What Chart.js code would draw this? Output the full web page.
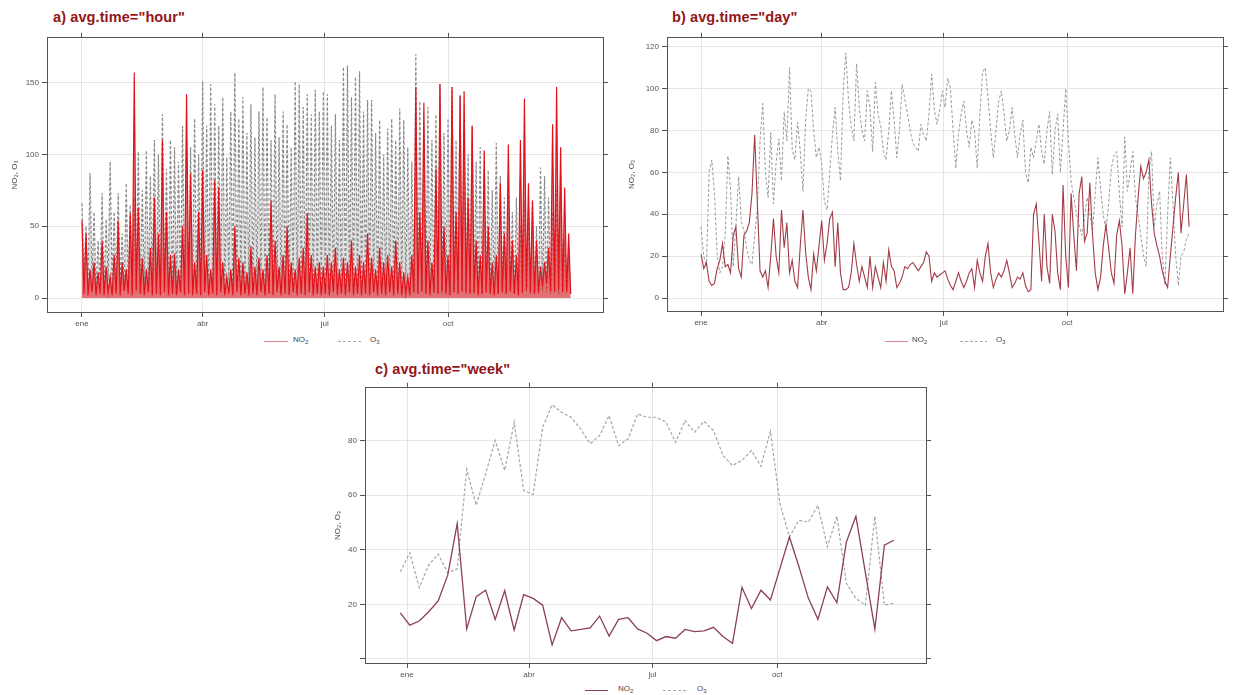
<!DOCTYPE html>
<html>
<head>
<meta charset="utf-8">
<script src="https://cdn.jsdelivr.net/npm/chart.js@4.4.0/dist/chart.umd.min.js"></script>
<style>
  body{margin:0;background:#fff;width:1234px;height:695px;position:relative;overflow:hidden;font-family:"Liberation Sans",Arial,sans-serif}
  canvas{position:absolute}
  .ttl{position:absolute;font:bold 14.5px "Liberation Sans",Arial,sans-serif;color:#931519;white-space:nowrap;letter-spacing:0.1px}
  .lg{position:absolute;font-size:8px;color:#444;line-height:10px;white-space:nowrap}
  .lg sub{font-size:6px;vertical-align:-2px;line-height:0}
  svg{position:absolute;overflow:visible}
</style>
</head>
<body>
<div class="ttl" style="left:53px;top:9px">a) avg.time="hour"</div>
<div class="ttl" style="left:672px;top:9px">b) avg.time="day"</div>
<div class="ttl" style="left:375px;top:361px">c) avg.time="week"</div>

<canvas id="cHour" width="625" height="300" style="left:0;top:30px"></canvas>
<canvas id="cDay" width="614" height="300" style="left:620px;top:30px"></canvas>
<canvas id="cWeek" width="620" height="300" style="left:320px;top:380px"></canvas>

<!-- legends -->
<svg style="left:264px;top:341px" width="25" height="2"><line x1="0" y1="0.5" x2="24" y2="0.5" stroke="#d88a90" stroke-width="1"/></svg>
<div class="lg" style="left:293px;top:335px">NO<sub>2</sub></div>
<svg style="left:338px;top:341px" width="25" height="2"><line x1="0" y1="0.5" x2="25" y2="0.5" stroke="#aaa" stroke-width="1" stroke-dasharray="3,2"/></svg>
<div class="lg" style="left:370px;top:335px">O<sub>3</sub></div>

<svg style="left:885px;top:341px" width="25" height="2"><line x1="0" y1="0.5" x2="23" y2="0.5" stroke="#d88a90" stroke-width="1"/></svg>
<div class="lg" style="left:912px;top:335px">NO<sub>2</sub></div>
<svg style="left:960px;top:341px" width="28" height="2"><line x1="0" y1="0.5" x2="27" y2="0.5" stroke="#aaa" stroke-width="1" stroke-dasharray="3,2"/></svg>
<div class="lg" style="left:996px;top:335px">O<sub>3</sub></div>

<svg style="left:585px;top:690px" width="25" height="2"><line x1="0" y1="0.5" x2="23" y2="0.5" stroke="#8c4150" stroke-width="1"/></svg>
<div class="lg" style="left:618px;top:684px">NO<sub>2</sub></div>
<svg style="left:663px;top:690px" width="25" height="2"><line x1="0" y1="0.5" x2="24" y2="0.5" stroke="#aaa" stroke-width="1" stroke-dasharray="3,2"/></svg>
<div class="lg" style="left:697px;top:684px">O<sub>3</sub></div>

<script>
// month ticks (day of year) and their labels
const MONTH_DAYS = [0, 90, 181, 273];
const MONTH_LABELS = ['ene', 'abr', 'jul', 'oct'];

// hourly panel: pairs of (high, low) every 1.5 days
const HOUR_STEP = 1.5;
const NO2_HOUR = [
  54,3, 45,2, 20,4, 25,2, 18,3, 40,2,
  22,4, 15,2, 30,3, 54,2, 25,5, 20,3,
  59,2, 157,6, 63,3, 28,2, 20,4, 35,2,
  70,3, 45,2, 110,4, 60,2, 30,3, 31,2,
  20,4, 50,2, 142,3, 87,2, 25,3, 60,2,
  89,4, 30,2, 20,3, 82,2, 77,4, 25,2,
  15,3, 20,2, 50,4, 28,2, 25,3, 18,2,
  36,3, 22,2, 28,4, 20,2, 30,3, 68,2,
  40,4, 22,2, 30,3, 50,2, 25,4, 20,2,
  28,3, 35,2, 59,4, 30,2, 22,3, 25,2,
  22,3, 30,2, 25,4, 35,2, 20,3, 28,2,
  25,4, 40,2, 22,3, 30,2, 25,3, 45,2,
  28,4, 20,2, 35,3, 25,2, 30,4, 22,2,
  40,3, 25,2, 18,3, 15,2, 30,4, 147,3,
  60,5, 136,3, 40,2, 25,4, 90,3, 149,5,
  50,3, 30,2, 147,4, 60,3, 141,5, 144,4,
  70,3, 120,4, 40,2, 30,3, 103,4, 50,3,
  25,2, 30,3, 80,4, 45,3, 107,5, 40,3,
  30,2, 110,4, 139,6, 80,4, 68,3, 40,4,
  22,8, 25,10, 35,5, 121,4, 147,6, 105,4,
  77,5, 45,3
];
const O3_HOUR = [
  66,15, 50,8, 87,12, 60,5, 40,10, 73,6,
  55,12, 95,8, 60,5, 73,10, 45,6, 80,8,
  65,5, 70,4, 102,6, 75,8, 103,5, 85,10,
  110,6, 100,4, 128,8, 90,5, 110,6, 105,4,
  95,8, 120,5, 110,4, 105,6, 125,5, 100,8,
  151,6, 120,4, 149,8, 135,5, 120,6, 140,4,
  98,10, 130,6, 157,5, 125,8, 140,4, 115,6,
  135,5, 112,8, 130,6, 147,4, 126,6, 110,5,
  142,8, 112,4, 130,6, 121,5, 105,8, 151,4,
  149,6, 133,5, 142,8, 128,4, 145,6, 130,5,
  144,8, 142,6, 120,5, 128,8, 110,4, 161,6,
  162,5, 140,8, 154,4, 158,6, 130,5, 138,8,
  138,4, 115,6, 124,5, 100,8, 118,4, 125,6,
  110,5, 132,4, 124,6, 105,5, 95,4, 170,3,
  137,4, 120,3, 133,5, 110,3, 128,4, 149,3,
  115,4, 125,3, 147,4, 110,3, 141,4, 120,3,
  100,4, 120,3, 95,4, 105,3, 90,4, 89,3,
  75,4, 108,3, 85,4, 70,3, 85,4, 60,3,
  70,4, 50,3, 68,4, 60,3, 68,4, 50,3,
  91,5, 85,4, 70,3, 60,4, 75,3, 85,4,
  40,3, 30,3
];

// daily panel: one value every 2 days
const DAY_STEP = 2;
const NO2_DAY = [
  21,14,17,8,6,7,14,18,26,15,16,12,
  30,34,14,10,30,32,36,50,78,45,13,10,
  13,5,20,38,20,12,42,24,36,12,18,8,
  5,25,42,22,10,4,21,13,25,37,18,26,
  38,41,15,36,12,4,4,5,12,26,16,8,
  15,10,5,20,5,15,10,5,17,8,23,15,
  13,5,7,10,15,14,16,17,15,13,15,17,
  22,20,8,12,10,11,12,13,9,6,4,8,
  12,8,5,8,12,14,5,18,12,8,20,26,
  12,5,9,12,10,13,18,12,5,7,10,9,
  12,6,3,4,40,45,27,8,40,15,7,40,
  32,12,4,54,20,5,50,30,13,50,58,27,
  31,55,30,12,4,10,25,35,24,12,7,30,
  37,25,2,12,24,2,30,48,63,57,60,66,
  45,31,25,20,13,8,5,20,34,48,60,31,
  45,59,34
];
const O3_DAY = [
  34,20,15,60,66,50,21,12,15,30,68,52,
  15,35,58,37,32,24,18,16,30,43,75,93,
  60,48,79,45,65,76,56,89,75,110,71,66,
  84,70,51,85,100,99,80,67,72,64,46,42,
  60,78,91,70,56,99,117,94,82,75,112,91,
  80,75,99,91,70,103,88,82,70,66,80,99,
  85,67,80,102,95,88,80,74,72,70,83,78,
  75,88,107,90,83,90,99,91,105,100,80,62,
  78,88,94,80,72,85,80,62,88,108,110,96,
  80,67,80,94,99,88,75,80,91,78,67,78,
  85,60,55,72,67,75,83,70,64,80,89,59,
  80,88,60,80,100,75,56,48,40,35,30,38,
  48,40,32,50,67,52,40,32,45,62,68,70,
  50,34,77,51,60,70,48,39,30,20,15,60,
  70,34,45,51,20,6,40,67,45,20,6,20,
  22,28,31
];

// weekly panel
const WEEK_START = -5;
const WEEK_STEP = 7;
const NO2_WEEK = [16.9,12.4,13.9,17.3,21.3,30.7,49.6,11.0,22.8,25.2,14.5,25.0,10.6,23.6,22.2,19.7,5.1,15.1,
  10.3,10.8,11.4,15.7,8.4,14.5,15.1,11.0,9.4,6.7,8.2,7.6,10.8,10.0,10.3,11.6,8.2,5.7,26.2,18.5,25.2,21.6,
  33.2,44.7,33.8,22.2,14.5,26.4,20.6,42.9,52.3,31.6,10.9,41.7,43.5];
const O3_WEEK = [31.9,38.9,26.2,34.4,38.4,31.6,33,69.5,56.3,67.9,80.1,69.1,86.8,61.8,60.3,84.9,93.2,90.4,
  88.6,84.3,78.9,81.9,89.2,78.2,80.7,89.8,88.6,88.6,86.8,79.4,87.4,83.1,87.1,83.7,74.6,70.9,72.8,76.4,70.6,
  83.5,56.9,44.7,50.8,50.2,56.3,41.1,52.3,27.7,22.2,19.7,52.3,19.7,20.4];

const Y_TICKS_HOUR = [0, 50, 100, 150];
const Y_TICKS_DAY = [0, 20, 40, 60, 80, 100, 120];
const Y_TICKS_WEEK = [0, 20, 40, 60, 80];

const pts = (arr, start, step) => arr.map((v, i) => ({ x: start + i * step, y: v }));

const tickFont = { family: 'Liberation Sans', size: 8 };
const boxColor = '#555';
const gridColor = '#e6e6e6';

function setTicks(vals){
  return s => { s.ticks = vals.map(v => ({ value: v })); };
}

function makePanel(id, p){
  const ctx = document.getElementById(id).getContext('2d');
  return new Chart(ctx, {
    type: 'line',
    data: { datasets: p.datasets },
    options: {
      responsive: false,
      animation: false,
      events: [],
      layout: { padding: 0 },
      elements: { point: { radius: 0 }, line: { tension: 0 } },
      plugins: { legend: { display: false }, tooltip: { enabled: false } },
      scales: {
        x: {
          type: 'linear', position: 'bottom', min: p.xMin, max: p.xMax,
          afterBuildTicks: setTicks(MONTH_DAYS),
          afterFit: s => { s.height = p.bottom; },
          ticks: { font: tickFont, color: '#555', padding: 2, maxRotation: 0, autoSkip: false,
                   callback: v => MONTH_LABELS[MONTH_DAYS.indexOf(v)] || '' },
          grid: { color: gridColor, tickColor: boxColor, tickLength: 5 },
          border: { color: boxColor, width: 1 }
        },
        x2: {
          type: 'linear', position: 'top', min: p.xMin, max: p.xMax,
          afterBuildTicks: setTicks(MONTH_DAYS),
          afterFit: s => { s.height = p.top; },
          ticks: { display: false },
          grid: { drawOnChartArea: false, tickColor: boxColor, tickLength: 5 },
          border: { color: boxColor, width: 1 }
        },
        y: {
          type: 'linear', position: 'left', min: p.yMin, max: p.yMax,
          afterBuildTicks: setTicks(p.yTicks),
          afterFit: s => { s.width = p.left; },
          ticks: { font: tickFont, color: '#555', padding: 3,
                   callback: v => (p.hideZero && v === 0) ? '' : String(v) },
          grid: { color: gridColor, tickColor: boxColor, tickLength: 5 },
          border: { color: boxColor, width: 1 },
          title: { display: true, text: 'NO₂, O₃', font: tickFont, color: '#444',
                   padding: { top: p.titlePad, bottom: 0 } }
        },
        y2: {
          type: 'linear', position: 'right', min: p.yMin, max: p.yMax,
          afterBuildTicks: setTicks(p.yTicks),
          afterFit: s => { s.width = p.right; },
          ticks: { display: false },
          grid: { drawOnChartArea: false, tickColor: boxColor, tickLength: 5 },
          border: { color: boxColor, width: 1 }
        }
      }
    }
  });
}

// a) hourly
makePanel('cHour', {
  xMin: -26.1, xMax: 388.6, yMin: -9.7, yMax: 181.25, yTicks: Y_TICKS_HOUR,
  left: 47, right: 22, top: 7, bottom: 18, titlePad: 10,
  datasets: [
    { label: 'NO₂', data: pts(NO2_HOUR, 0, HOUR_STEP), borderColor: '#e3121a', borderWidth: 1.2,
      fill: 'origin', backgroundColor: 'rgba(230,20,26,0.55)' },
    { label: 'O₃', data: pts(O3_HOUR, 0, HOUR_STEP), borderColor: '#8a8a8a', borderWidth: 1.2, borderDash: [3, 2],
      fill: 'origin', backgroundColor: 'rgba(150,150,150,0.3)' }
  ]
});

// b) daily
makePanel('cDay', {
  xMin: -25.4, xMax: 389.3, yMin: -6.2, yMax: 124.3, yTicks: Y_TICKS_DAY,
  left: 47, right: 11, top: 6, bottom: 19, titlePad: 7,
  datasets: [
    { label: 'NO₂', data: pts(NO2_DAY, 0, DAY_STEP), borderColor: '#a23c46', borderWidth: 1.1 },
    { label: 'O₃', data: pts(O3_DAY, 0, DAY_STEP), borderColor: '#9a9a9a', borderWidth: 1, borderDash: [3, 2] }
  ]
});

// c) weekly
makePanel('cWeek', {
  xMin: -31, xMax: 382.7, yMin: -1.5, yMax: 99.4, yTicks: Y_TICKS_WEEK, hideZero: true,
  left: 45, right: 14, top: 7, bottom: 17, titlePad: 13,
  datasets: [
    { label: 'NO₂', data: pts(NO2_WEEK, WEEK_START, WEEK_STEP), borderColor: '#8c4150', borderWidth: 1.3 },
    { label: 'O₃', data: pts(O3_WEEK, WEEK_START, WEEK_STEP), borderColor: '#a5a5a5', borderWidth: 1.2, borderDash: [3, 2] }
  ]
});
</script>
</body>
</html>
